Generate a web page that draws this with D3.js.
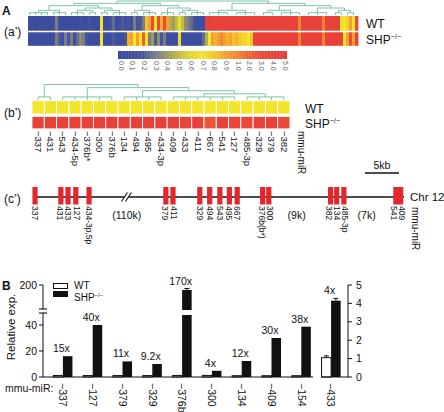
<!DOCTYPE html>
<html><head><meta charset="utf-8">
<script src="https://cdn.jsdelivr.net/npm/d3@7"></script>
<style>body{margin:0;background:#fff}text{font-family:"Liberation Sans",Arial,sans-serif;fill:#111}</style>
</head><body><svg id="c" width="444" height="412"></svg>
<script>
// ---------- DATA ----------
const colorTickValues = [0,0.1,0.2,0.3,0.4,0.5,0.6,0.7,0.8,0.9,1,2,3,4,5];
const colorTickLabels = ["0.0","0.1","0.2","0.3","0.4","0.5","0.6","0.7","0.8","0.9","1.0","2.0","3.0","4.0","5.0"];
const colorStops = ["#3a4b9f","#3c4e9d","#4d5a96","#7a7d86","#9d9c5e","#c2bf3e","#dfd734","#f3e52c","#f4c22c","#f2a02e","#ef8431","#ec6234","#e94b38","#e8413a","#e83c3b"];

const heatWT = [0.05,0.08,0.05,0.1,0.05,0.08,0.05,0.1,0.12,0.3,
 0.1,0.05,0.08,0.05,0.1,0.05,0.08,0.12,0.05,0.08,
 0.15,0.1,0.05,0.08,0.7,0.1,0.05,0.15,0.25,0.05,
 0.1,0.2,0.12,0.15,0.1,0.3,0.15,0.2,0.3,0.8,
 0.9,3,0.7,3,0.85,3,0.9,0.45,0.4,0.5,
 0.65,0.5,0.35,0.3,0.25,0.15,0.1,0.1,0.05,4,
 4,4,3.5,4,4,4,4,4,4,4,
 4,4,4,4,4,4,4,4,4,4,
 4,4,4,4,4,4,4,4,4,4,
 1.0,4,4,4,4,4,4,4,1.0,4,
 4,4,4,4,0.7,0.7,0.75,0.9,0.7,3];
const heatSHP = [0.05,0.1,0.05,0.08,0.1,0.05,0.1,0.08,0.1,0.3,
 0.2,0.1,0.3,0.15,0.3,0.1,0.25,0.35,0.3,0.15,
 0.1,0.05,0.1,0.08,0.7,0.1,0.05,0.1,0.2,0.1,
 0.05,0.1,0.15,0.85,0.9,0.7,0.9,0.7,2.0,0.7,
 0.3,0.4,0.2,0.35,0.15,0.3,0.1,0.05,0.1,0.08,
 0.65,0.1,0.05,0.1,0.05,0.08,0.1,0.05,0.25,0.45,
 0.7,0.9,0.85,0.9,1.0,0.9,0.85,0.9,0.8,0.85,
 0.8,0.75,0.75,0.7,0.8,4,4,4,4,4,
 4,4,4,4,4,4,4,4,4,4,
 1.0,4,4,4,4,4,4,4,1.0,4,
 4,4,4,4,4,0.7,0.9,3,0.9,4];
const treeA = [[[[[0,2,4,6],[8,10,12]],[[[14,16,18],[20,22]],[[24,26],[28,30,32]]]],
  [[[34,36],[38,40,42]],[[44,46,48],[[50,52],[54,56,58]]]]],
  [[[60,63,66],[69,72,75]],[[[78,81],[84,87,90]],[[93,96,99],[[102,104],[106,108]]]]]];

const bMirs = ["−337","−431","−543","−434-5p","−376b*","−300","−376b","−134","−494","−495","−434-3p","−409","−433","−411","−667","−541","−127","−485-3p","−329","−379","−382"];
const bWT  = [0.7,0.7,0.7,0.7,0.7,0.7,0.7,0.7,0.7,0.7,0.7,0.7,0.7,0.7,0.7,0.7,0.7,0.7,0.7,0.7,0.7];
const bSHP = [4,4,4,4,4,4,4,4,4,4,4,4,3.5,4,2.5,4,3.5,3,4,4,3];
const treeB = [[0,1],[[2,3,4,5,6],[[7,8,9,10],[[11,12,13,14,15,16],[17,18,19,20]]]]];

const cMirs = ["337","431","433","127","434-3p,5p","379","411","329","494","543","495","667","376b(b*)","300","382","134","485-3p","541","409"];
const cPosKb = [0.3,4.1,5.15,6.3,8.25,19.55,20.6,24.55,26.0,27.5,28.9,30.05,33.8,34.7,43.8,44.7,45.75,53.4,54.1];
const cGapLabels = ["(110k)","(9k)","(7k)"];
const cGapKb = [13.8,38.8,49.1];
const cBreakKb = 13.75;
const cSpanKb = [0,54.6];

const groups = ["−337","−127","−379","−329","−376b","−300","−134","−409","−154","−433"];
const wtVals  = [1.2,1.1,1.1,1.1,1.2,1.2,1.0,1.0,1.0,1.05];
const wtErr   = [0,0,0,0,0,0,0,0,0,0.1];
const shpVals = [16,40,12,10,190,4.8,12.3,30,38.7,4.15];
const shpErr  = [0,0,0,0,3,0,0,0,0,0.12];
const folds   = ["15x","40x","11x","9.2x","170x","4x","12x","30x","38x","4x"];
const useRight = [false,false,false,false,false,false,false,false,false,true];
const leftTicks = [0,20,40];
const highTicks = [200];
const rightTicks = [0,1,2,3,4,5];

// ---------- DRAW ----------
const svg = d3.select("#c");
const color = d3.scaleLinear().domain(colorTickValues).range(colorStops).clamp(true);
const teal = "#6dbf9f";

function drawTree(g, tree, xOf, yTop, yBottom){
  function build(n){
    if (typeof n === "number") return {x:xOf(n), h:0};
    const kids = n.map(build);
    return {x:d3.mean(kids,k=>k.x), h:d3.max(kids,k=>k.h)+1, kids};
  }
  const root = build(tree);
  const y = d3.scaleLinear().domain([0,root.h]).range([yBottom,yTop]);
  (function draw(node){
    if(!node.kids) return;
    const yy = y(node.h);
    g.append("line").attr("x1",d3.min(node.kids,k=>k.x)).attr("x2",d3.max(node.kids,k=>k.x))
      .attr("y1",yy).attr("y2",yy).attr("stroke",teal).attr("stroke-width",0.9);
    node.kids.forEach(k=>{
      g.append("line").attr("x1",k.x).attr("x2",k.x).attr("y1",y(k.h)).attr("y2",yy)
        .attr("stroke",teal).attr("stroke-width",0.9);
      draw(k);
    });
  })(root);
}
function rotLabel(g, x, y, txt, size, fill){
  return g.append("text").attr("transform",`translate(${x},${y}) rotate(90)`)
    .attr("dy","0.35em").attr("font-size",size).style("fill",fill||"#111").text(txt);
}
function shpLabel(g,x,y,size){
  const t = g.append("text").attr("x",x).attr("y",y).attr("font-size",size).text("SHP");
  t.append("tspan").attr("dy",-size*0.35).attr("font-size",size*0.6).text("−/−");
  return t;
}
function spread(xs, minSp){
  const p = xs.slice();
  for (let it=0; it<80; it++){
    for (let i=1;i<p.length;i++){
      const d = p[i]-p[i-1];
      if (d < minSp){ const o=(minSp-d)/2; p[i-1]-=o; p[i]+=o; }
    }
  }
  return p;
}

// ===== Panel A (a') =====
svg.append("text").attr("x",2).attr("y",15).attr("font-size",12).attr("font-weight","bold").text("A");
svg.append("text").attr("x",4).attr("y",36).attr("font-size",12).text("(a’)");
const xA = d3.scaleBand().domain(d3.range(heatWT.length)).range([28,358]);
const gA = svg.append("g");
[[heatWT,16,14.7],[heatSHP,32.3,13.5]].forEach(([arr,y0,h])=>{
  gA.selectAll(null).data(arr).enter().append("rect")
    .attr("x",(d,i)=>xA(i)).attr("y",y0).attr("width",xA.bandwidth()+0.4).attr("height",h)
    .attr("fill",d=>color(d));
});
drawTree(svg.append("g"), treeA, i=>xA(i)+xA.bandwidth()/2, 1, 15);
svg.append("text").attr("x",366).attr("y",28).attr("font-size",12).text("WT");
shpLabel(svg,366,43.5,12);

// colour bar
const cbIdx = d3.scaleLinear().domain([0,colorTickValues.length-1]).range([121,285]);
const idxToVal = d3.scaleLinear().domain(d3.range(colorTickValues.length)).range(colorTickValues);
const steps = d3.range(0,14,0.125);
svg.append("g").selectAll("rect").data(steps).enter().append("rect")
  .attr("x",d=>cbIdx(d)).attr("y",51).attr("width",cbIdx(0.125)-cbIdx(0)+0.3).attr("height",8)
  .attr("fill",d=>color(idxToVal(d+0.0625)));
svg.append("rect").attr("x",118).attr("y",51).attr("width",4).attr("height",8).attr("fill",colorStops[0]);
svg.append("rect").attr("x",284).attr("y",51).attr("width",3).attr("height",8).attr("fill",colorStops[14]);
colorTickLabels.forEach((t,i)=>rotLabel(svg,cbIdx(i),61,t,7,"#666"));

// ===== Panel B (b') =====
svg.append("text").attr("x",4).attr("y",117).attr("font-size",12).text("(b’)");
const xB = d3.scaleBand().domain(bMirs).range([32,290]);
const gB = svg.append("g");
[[bWT,100.7,13.3],[bSHP,116.3,12.6]].forEach(([arr,y0,h])=>{
  gB.selectAll(null).data(arr).enter().append("rect")
    .attr("x",(d,i)=>xB(bMirs[i])).attr("y",y0).attr("width",xB.bandwidth()).attr("height",h)
    .attr("fill",d=>color(d)).attr("stroke","#fff").attr("stroke-width",0.9);
});
drawTree(svg.append("g"), treeB, i=>xB(bMirs[i])+xB.bandwidth()/2, 84.5, 100);
bMirs.forEach(m=>rotLabel(svg,xB(m)+xB.bandwidth()/2,131,m,9.5));
rotLabel(svg,301,131,"mmu-miR",10);
svg.append("text").attr("x",305).attr("y",113).attr("font-size",12).text("WT");
shpLabel(svg,305,127.5,12);

// ===== Panel C (c') =====
svg.append("text").attr("x",4).attr("y",203).attr("font-size",12).text("(c’)");
const xC = d3.scaleLinear().domain(cSpanKb).range([33,404]);
const yChr = 197;
const bx = xC(cBreakKb);
svg.append("line").attr("x1",xC(cSpanKb[0])).attr("x2",bx-2).attr("y1",yChr).attr("y2",yChr).attr("stroke","#111").attr("stroke-width",1.5);
svg.append("line").attr("x1",bx+2).attr("x2",xC(cSpanKb[1])).attr("y1",yChr).attr("y2",yChr).attr("stroke","#111").attr("stroke-width",1.5);
[-2,2].forEach(o=>svg.append("line").attr("x1",bx+o-3).attr("x2",bx+o+3).attr("y1",yChr+4.5).attr("y2",yChr-4.5).attr("stroke","#111").attr("stroke-width",1.1));
svg.append("g").selectAll("rect").data(cPosKb).enter().append("rect")
  .attr("x",d=>xC(d)-2.6).attr("y",187).attr("width",5.2).attr("height",17.5).attr("fill","#e3262c");
const cLabX = spread(cPosKb.map(d=>xC(d)), 8.3);
cMirs.forEach((m,i)=>rotLabel(svg,cLabX[i],206,m,8.5));
cGapLabels.forEach((t,i)=>svg.append("text").attr("x",xC(cGapKb[i])).attr("y",219).attr("text-anchor","middle").attr("font-size",10.5).text(t));
svg.append("text").attr("x",410).attr("y",201).attr("font-size",11.5).text("Chr 12");
rotLabel(svg,415,207,"mmu-miR",10);
svg.append("line").attr("x1",365).attr("x2",365+xC(5)-xC(0)).attr("y1",173).attr("y2",173).attr("stroke","#111").attr("stroke-width",1.6);
svg.append("text").attr("x",365+(xC(5)-xC(0))/2).attr("y",169).attr("text-anchor","middle").attr("font-size",10.5).text("5kb");

// ===== Panel B bar chart =====
svg.append("text").attr("x",2).attr("y",290).attr("font-size",12).attr("font-weight","bold").text("B");
const x = d3.scaleBand().domain(groups).range([48,346]).paddingInner(0.36).paddingOuter(0.18);
const bw = x.bandwidth()/2;
const yLow = d3.scaleLinear().domain([0,40]).range([377,325]);
const yHigh = d3.scaleLinear().domain([150,200]).range([310,285]);
const yR = d3.scaleLinear().domain([0,5]).range([377,285]);
const breakLowTop = 315, breakHighBottom = 310;
const gBar = svg.append("g");
groups.forEach((g,i)=>{
  const x0 = x(g);
  const yS = useRight[i] ? yR : yLow;
  gBar.append("rect").attr("x",x0).attr("y",yS(wtVals[i])).attr("width",bw).attr("height",yS(0)-yS(wtVals[i]))
    .attr("fill","#fff").attr("stroke","#111").attr("stroke-width",1);
  if (wtErr[i]>0){
    const cx=x0+bw/2, yt=yS(wtVals[i]+wtErr[i]);
    gBar.append("line").attr("x1",cx).attr("x2",cx).attr("y1",yS(wtVals[i])).attr("y2",yt).attr("stroke","#111");
    gBar.append("line").attr("x1",cx-2.5).attr("x2",cx+2.5).attr("y1",yt).attr("y2",yt).attr("stroke","#111");
  }
  const v = shpVals[i];
  let topY;
  if (!useRight[i] && v>40){
    gBar.append("rect").attr("x",x0+bw).attr("y",breakLowTop).attr("width",bw).attr("height",yLow(0)-breakLowTop).attr("fill","#111");
    gBar.append("rect").attr("x",x0+bw).attr("y",yHigh(v)).attr("width",bw).attr("height",breakHighBottom-yHigh(v)).attr("fill","#111");
    topY = yHigh(v);
    if (shpErr[i]>0){
      const cx=x0+bw*1.5, yt=yHigh(v+shpErr[i]);
      gBar.append("line").attr("x1",cx-2.5).attr("x2",cx+2.5).attr("y1",yt).attr("y2",yt).attr("stroke","#111");
      gBar.append("line").attr("x1",cx).attr("x2",cx).attr("y1",yt).attr("y2",topY).attr("stroke","#111");
      topY = yt;
    }
  } else {
    gBar.append("rect").attr("x",x0+bw).attr("y",yS(v)).attr("width",bw).attr("height",yS(0)-yS(v)).attr("fill","#111");
    topY = yS(v);
    if (shpErr[i]>0){
      const cx=x0+bw*1.5, yt=yS(v+shpErr[i]);
      gBar.append("line").attr("x1",cx).attr("x2",cx).attr("y1",yt).attr("y2",topY).attr("stroke","#111");
      gBar.append("line").attr("x1",cx-2.5).attr("x2",cx+2.5).attr("y1",yt).attr("y2",yt).attr("stroke","#111");
      topY = yt;
    }
  }
  svg.append("text").attr("x",x0+bw-1.5).attr("y",topY-4).attr("text-anchor","middle").attr("font-size",10.5).text(folds[i]);
  rotLabel(svg,x0+bw,383,g,10.5);
});
svg.append("line").attr("x1",43).attr("x2",313).attr("y1",377).attr("y2",377).attr("stroke","#111");
svg.append("line").attr("x1",321).attr("x2",348).attr("y1",377).attr("y2",377).attr("stroke","#111");
const gL = svg.append("g");
gL.append("line").attr("x1",43).attr("x2",43).attr("y1",yHigh(200)).attr("y2",309).attr("stroke","#111");
gL.append("line").attr("x1",43).attr("x2",43).attr("y1",313).attr("y2",377).attr("stroke","#111");
[309,313].forEach(yy=>gL.append("line").attr("x1",39).attr("x2",47).attr("y1",yy).attr("y2",yy).attr("stroke","#111").attr("stroke-width",1.1));
leftTicks.forEach(t=>{
  gL.append("line").attr("x1",39).attr("x2",43).attr("y1",yLow(t)).attr("y2",yLow(t)).attr("stroke","#111");
  gL.append("text").attr("x",37).attr("y",yLow(t)).attr("dy","0.35em").attr("text-anchor","end").attr("font-size",10.5).text(t);
});
highTicks.forEach(t=>{
  gL.append("line").attr("x1",39).attr("x2",43).attr("y1",yHigh(t)).attr("y2",yHigh(t)).attr("stroke","#111");
  gL.append("text").attr("x",37).attr("y",yHigh(t)).attr("dy","0.35em").attr("text-anchor","end").attr("font-size",10.5).text(t);
});
svg.append("text").attr("transform","translate(15,327) rotate(-90)").attr("text-anchor","middle").attr("font-size",11.5).text("Relative exp.");
const gR = svg.append("g");
gR.append("line").attr("x1",348).attr("x2",348).attr("y1",yR(5)).attr("y2",yR(0)).attr("stroke","#111");
rightTicks.forEach(t=>{
  gR.append("line").attr("x1",348).attr("x2",352).attr("y1",yR(t)).attr("y2",yR(t)).attr("stroke","#111");
  gR.append("text").attr("x",356).attr("y",yR(t)).attr("dy","0.35em").attr("font-size",10.5).text(t);
});
svg.append("rect").attr("x",53.5).attr("y",283.5).attr("width",14).attr("height",5).attr("fill","#fff").attr("stroke","#111");
svg.append("rect").attr("x",53).attr("y",291).attr("width",15).attr("height",6).attr("fill","#111");
svg.append("text").attr("x",74).attr("y",288.5).attr("font-size",10).text("WT");
shpLabel(svg,74,300.5,10);
svg.append("text").attr("x",5).attr("y",392).attr("font-size",10.5).text("mmu-miR:");
</script></body></html>
